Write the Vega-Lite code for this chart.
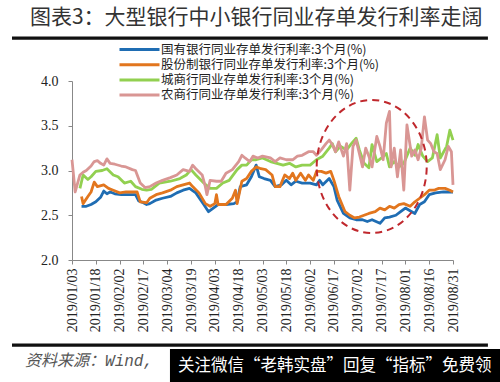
{
  "$schema": "https://vega.github.io/schema/vega-lite/v6.json",
  "width": 381,
  "height": 179,
  "autosize": "none",
  "padding": {"left": 72, "top": 81, "right": 47, "bottom": 122},
  "background": "white",
  "config": {
    "view": {"stroke": null},
    "axis": {
      "labelFont": "Liberation Serif",
      "labelFontSize": 14,
      "labelColor": "#222222",
      "domainColor": "#888888",
      "tickColor": "#888888",
      "tickSize": 4,
      "grid": false,
      "title": null
    },
    "axisX": {
      "labelAngle": 270,
      "labelPadding": 4,
      "labelOverlap": false,
      "labelBound": false,
      "labelFlush": false,
      "tickCount": 40
    },
    "legend": {
      "orient": "none",
      "legendX": 61,
      "legendY": -38,
      "padding": 0,
      "title": null,
      "symbolType": "M -4 0 L 4 0",
      "symbolSize": 100,
      "symbolStrokeWidth": 3,
      "labelFont": "Noto Sans CJK SC",
      "labelFontSize": 12.5,
      "labelColor": "#222222",
      "labelOffset": 15,
      "rowPadding": 2.2,
      "labelLimit": 400
    }
  },
  "layer": [
    {
      "data": {"values": [
        {"date": "2019-01-09", "s": "国有银行同业存单发行利率:3个月(%)", "v": 2.60},
        {"date": "2019-01-12", "s": "国有银行同业存单发行利率:3个月(%)", "v": 2.60},
        {"date": "2019-01-15", "s": "国有银行同业存单发行利率:3个月(%)", "v": 2.62},
        {"date": "2019-01-18", "s": "国有银行同业存单发行利率:3个月(%)", "v": 2.65},
        {"date": "2019-01-21", "s": "国有银行同业存单发行利率:3个月(%)", "v": 2.70},
        {"date": "2019-01-23", "s": "国有银行同业存单发行利率:3个月(%)", "v": 2.77},
        {"date": "2019-01-25", "s": "国有银行同业存单发行利率:3个月(%)", "v": 2.74},
        {"date": "2019-01-27", "s": "国有银行同业存单发行利率:3个月(%)", "v": 2.76},
        {"date": "2019-01-30", "s": "国有银行同业存单发行利率:3个月(%)", "v": 2.74},
        {"date": "2019-02-03", "s": "国有银行同业存单发行利率:3个月(%)", "v": 2.73},
        {"date": "2019-02-08", "s": "国有银行同业存单发行利率:3个月(%)", "v": 2.73},
        {"date": "2019-02-12", "s": "国有银行同业存单发行利率:3个月(%)", "v": 2.73},
        {"date": "2019-02-14", "s": "国有银行同业存单发行利率:3个月(%)", "v": 2.66},
        {"date": "2019-02-17", "s": "国有银行同业存单发行利率:3个月(%)", "v": 2.64},
        {"date": "2019-02-19", "s": "国有银行同业存单发行利率:3个月(%)", "v": 2.62},
        {"date": "2019-02-21", "s": "国有银行同业存单发行利率:3个月(%)", "v": 2.63},
        {"date": "2019-02-25", "s": "国有银行同业存单发行利率:3个月(%)", "v": 2.67},
        {"date": "2019-03-01", "s": "国有银行同业存单发行利率:3个月(%)", "v": 2.69},
        {"date": "2019-03-06", "s": "国有银行同业存单发行利率:3个月(%)", "v": 2.71},
        {"date": "2019-03-10", "s": "国有银行同业存单发行利率:3个月(%)", "v": 2.75},
        {"date": "2019-03-14", "s": "国有银行同业存单发行利率:3个月(%)", "v": 2.78},
        {"date": "2019-03-18", "s": "国有银行同业存单发行利率:3个月(%)", "v": 2.80},
        {"date": "2019-03-22", "s": "国有银行同业存单发行利率:3个月(%)", "v": 2.75},
        {"date": "2019-03-27", "s": "国有银行同业存单发行利率:3个月(%)", "v": 2.62},
        {"date": "2019-03-30", "s": "国有银行同业存单发行利率:3个月(%)", "v": 2.54},
        {"date": "2019-04-02", "s": "国有银行同业存单发行利率:3个月(%)", "v": 2.58},
        {"date": "2019-04-05", "s": "国有银行同业存单发行利率:3个月(%)", "v": 2.62},
        {"date": "2019-04-10", "s": "国有银行同业存单发行利率:3个月(%)", "v": 2.62},
        {"date": "2019-04-15", "s": "国有银行同业存单发行利率:3个月(%)", "v": 2.63},
        {"date": "2019-04-17", "s": "国有银行同业存单发行利率:3个月(%)", "v": 2.65},
        {"date": "2019-04-19", "s": "国有银行同业存单发行利率:3个月(%)", "v": 2.82},
        {"date": "2019-04-23", "s": "国有银行同业存单发行利率:3个月(%)", "v": 2.84},
        {"date": "2019-04-26", "s": "国有银行同业存单发行利率:3个月(%)", "v": 2.93},
        {"date": "2019-04-29", "s": "国有银行同业存单发行利率:3个月(%)", "v": 3.06},
        {"date": "2019-05-01", "s": "国有银行同业存单发行利率:3个月(%)", "v": 2.93},
        {"date": "2019-05-04", "s": "国有银行同业存单发行利率:3个月(%)", "v": 2.91},
        {"date": "2019-05-08", "s": "国有银行同业存单发行利率:3个月(%)", "v": 2.89},
        {"date": "2019-05-11", "s": "国有银行同业存单发行利率:3个月(%)", "v": 2.82},
        {"date": "2019-05-15", "s": "国有银行同业存单发行利率:3个月(%)", "v": 2.84},
        {"date": "2019-05-18", "s": "国有银行同业存单发行利率:3个月(%)", "v": 2.89},
        {"date": "2019-05-21", "s": "国有银行同业存单发行利率:3个月(%)", "v": 2.84},
        {"date": "2019-05-24", "s": "国有银行同业存单发行利率:3个月(%)", "v": 2.88},
        {"date": "2019-05-28", "s": "国有银行同业存单发行利率:3个月(%)", "v": 2.86},
        {"date": "2019-06-02", "s": "国有银行同业存单发行利率:3个月(%)", "v": 2.86},
        {"date": "2019-06-06", "s": "国有银行同业存单发行利率:3个月(%)", "v": 2.84},
        {"date": "2019-06-08", "s": "国有银行同业存单发行利率:3个月(%)", "v": 2.89},
        {"date": "2019-06-10", "s": "国有银行同业存单发行利率:3个月(%)", "v": 2.84},
        {"date": "2019-06-14", "s": "国有银行同业存单发行利率:3个月(%)", "v": 2.91},
        {"date": "2019-06-17", "s": "国有银行同业存单发行利率:3个月(%)", "v": 2.82},
        {"date": "2019-06-19", "s": "国有银行同业存单发行利率:3个月(%)", "v": 2.67},
        {"date": "2019-06-23", "s": "国有银行同业存单发行利率:3个月(%)", "v": 2.52},
        {"date": "2019-06-27", "s": "国有银行同业存单发行利率:3个月(%)", "v": 2.47},
        {"date": "2019-07-01", "s": "国有银行同业存单发行利率:3个月(%)", "v": 2.45},
        {"date": "2019-07-05", "s": "国有银行同业存单发行利率:3个月(%)", "v": 2.45},
        {"date": "2019-07-08", "s": "国有银行同业存单发行利率:3个月(%)", "v": 2.43},
        {"date": "2019-07-11", "s": "国有银行同业存单发行利率:3个月(%)", "v": 2.45},
        {"date": "2019-07-16", "s": "国有银行同业存单发行利率:3个月(%)", "v": 2.41},
        {"date": "2019-07-19", "s": "国有银行同业存单发行利率:3个月(%)", "v": 2.47},
        {"date": "2019-07-22", "s": "国有银行同业存单发行利率:3个月(%)", "v": 2.48},
        {"date": "2019-07-26", "s": "国有银行同业存单发行利率:3个月(%)", "v": 2.50},
        {"date": "2019-07-29", "s": "国有银行同业存单发行利率:3个月(%)", "v": 2.54},
        {"date": "2019-08-01", "s": "国有银行同业存单发行利率:3个月(%)", "v": 2.58},
        {"date": "2019-08-05", "s": "国有银行同业存单发行利率:3个月(%)", "v": 2.54},
        {"date": "2019-08-07", "s": "国有银行同业存单发行利率:3个月(%)", "v": 2.52},
        {"date": "2019-08-10", "s": "国有银行同业存单发行利率:3个月(%)", "v": 2.62},
        {"date": "2019-08-13", "s": "国有银行同业存单发行利率:3个月(%)", "v": 2.65},
        {"date": "2019-08-16", "s": "国有银行同业存单发行利率:3个月(%)", "v": 2.73},
        {"date": "2019-08-20", "s": "国有银行同业存单发行利率:3个月(%)", "v": 2.75},
        {"date": "2019-08-25", "s": "国有银行同业存单发行利率:3个月(%)", "v": 2.76},
        {"date": "2019-08-29", "s": "国有银行同业存单发行利率:3个月(%)", "v": 2.76},
        {"date": "2019-08-31", "s": "国有银行同业存单发行利率:3个月(%)", "v": 2.76},

        {"date": "2019-01-09", "s": "股份制银行同业存单发行利率:3个月(%)", "v": 2.71},
        {"date": "2019-01-10", "s": "股份制银行同业存单发行利率:3个月(%)", "v": 2.63},
        {"date": "2019-01-13", "s": "股份制银行同业存单发行利率:3个月(%)", "v": 2.71},
        {"date": "2019-01-15", "s": "股份制银行同业存单发行利率:3个月(%)", "v": 2.76},
        {"date": "2019-01-17", "s": "股份制银行同业存单发行利率:3个月(%)", "v": 2.87},
        {"date": "2019-01-19", "s": "股份制银行同业存单发行利率:3个月(%)", "v": 2.82},
        {"date": "2019-01-23", "s": "股份制银行同业存单发行利率:3个月(%)", "v": 2.84},
        {"date": "2019-01-26", "s": "股份制银行同业存单发行利率:3个月(%)", "v": 2.80},
        {"date": "2019-01-29", "s": "股份制银行同业存单发行利率:3个月(%)", "v": 2.78},
        {"date": "2019-02-02", "s": "股份制银行同业存单发行利率:3个月(%)", "v": 2.75},
        {"date": "2019-02-06", "s": "股份制银行同业存单发行利率:3个月(%)", "v": 2.76},
        {"date": "2019-02-10", "s": "股份制银行同业存单发行利率:3个月(%)", "v": 2.76},
        {"date": "2019-02-13", "s": "股份制银行同业存单发行利率:3个月(%)", "v": 2.76},
        {"date": "2019-02-15", "s": "股份制银行同业存单发行利率:3个月(%)", "v": 2.65},
        {"date": "2019-02-19", "s": "股份制银行同业存单发行利率:3个月(%)", "v": 2.64},
        {"date": "2019-02-21", "s": "股份制银行同业存单发行利率:3个月(%)", "v": 2.69},
        {"date": "2019-02-25", "s": "股份制银行同业存单发行利率:3个月(%)", "v": 2.73},
        {"date": "2019-03-01", "s": "股份制银行同业存单发行利率:3个月(%)", "v": 2.75},
        {"date": "2019-03-06", "s": "股份制银行同业存单发行利率:3个月(%)", "v": 2.78},
        {"date": "2019-03-10", "s": "股份制银行同业存单发行利率:3个月(%)", "v": 2.82},
        {"date": "2019-03-14", "s": "股份制银行同业存单发行利率:3个月(%)", "v": 2.84},
        {"date": "2019-03-18", "s": "股份制银行同业存单发行利率:3个月(%)", "v": 2.86},
        {"date": "2019-03-20", "s": "股份制银行同业存单发行利率:3个月(%)", "v": 2.82},
        {"date": "2019-03-24", "s": "股份制银行同业存单发行利率:3个月(%)", "v": 2.75},
        {"date": "2019-03-28", "s": "股份制银行同业存单发行利率:3个月(%)", "v": 2.63},
        {"date": "2019-03-31", "s": "股份制银行同业存单发行利率:3个月(%)", "v": 2.60},
        {"date": "2019-04-03", "s": "股份制银行同业存单发行利率:3个月(%)", "v": 2.63},
        {"date": "2019-04-04", "s": "股份制银行同业存单发行利率:3个月(%)", "v": 2.73},
        {"date": "2019-04-05", "s": "股份制银行同业存单发行利率:3个月(%)", "v": 2.62},
        {"date": "2019-04-10", "s": "股份制银行同业存单发行利率:3个月(%)", "v": 2.62},
        {"date": "2019-04-14", "s": "股份制银行同业存单发行利率:3个月(%)", "v": 2.69},
        {"date": "2019-04-16", "s": "股份制银行同业存单发行利率:3个月(%)", "v": 2.78},
        {"date": "2019-04-17", "s": "股份制银行同业存单发行利率:3个月(%)", "v": 2.63},
        {"date": "2019-04-20", "s": "股份制银行同业存单发行利率:3个月(%)", "v": 2.88},
        {"date": "2019-04-23", "s": "股份制银行同业存单发行利率:3个月(%)", "v": 2.91},
        {"date": "2019-04-26", "s": "股份制银行同业存单发行利率:3个月(%)", "v": 2.99},
        {"date": "2019-04-29", "s": "股份制银行同业存单发行利率:3个月(%)", "v": 3.04},
        {"date": "2019-05-02", "s": "股份制银行同业存单发行利率:3个月(%)", "v": 3.02},
        {"date": "2019-05-05", "s": "股份制银行同业存单发行利率:3个月(%)", "v": 3.01},
        {"date": "2019-05-09", "s": "股份制银行同业存单发行利率:3个月(%)", "v": 2.95},
        {"date": "2019-05-11", "s": "股份制银行同业存单发行利率:3个月(%)", "v": 2.82},
        {"date": "2019-05-14", "s": "股份制银行同业存单发行利率:3个月(%)", "v": 2.82},
        {"date": "2019-05-17", "s": "股份制银行同业存单发行利率:3个月(%)", "v": 2.95},
        {"date": "2019-05-20", "s": "股份制银行同业存单发行利率:3个月(%)", "v": 2.91},
        {"date": "2019-05-22", "s": "股份制银行同业存单发行利率:3个月(%)", "v": 2.97},
        {"date": "2019-05-24", "s": "股份制银行同业存单发行利率:3个月(%)", "v": 2.89},
        {"date": "2019-05-27", "s": "股份制银行同业存单发行利率:3个月(%)", "v": 2.97},
        {"date": "2019-05-30", "s": "股份制银行同业存单发行利率:3个月(%)", "v": 2.89},
        {"date": "2019-06-01", "s": "股份制银行同业存单发行利率:3个月(%)", "v": 2.95},
        {"date": "2019-06-04", "s": "股份制银行同业存单发行利率:3个月(%)", "v": 2.89},
        {"date": "2019-06-06", "s": "股份制银行同业存单发行利率:3个月(%)", "v": 2.99},
        {"date": "2019-06-09", "s": "股份制银行同业存单发行利率:3个月(%)", "v": 2.99},
        {"date": "2019-06-12", "s": "股份制银行同业存单发行利率:3个月(%)", "v": 2.97},
        {"date": "2019-06-15", "s": "股份制银行同业存单发行利率:3个月(%)", "v": 2.99},
        {"date": "2019-06-17", "s": "股份制银行同业存单发行利率:3个月(%)", "v": 2.89},
        {"date": "2019-06-20", "s": "股份制银行同业存单发行利率:3个月(%)", "v": 2.71},
        {"date": "2019-06-24", "s": "股份制银行同业存单发行利率:3个月(%)", "v": 2.54},
        {"date": "2019-06-27", "s": "股份制银行同业存单发行利率:3个月(%)", "v": 2.50},
        {"date": "2019-06-30", "s": "股份制银行同业存单发行利率:3个月(%)", "v": 2.47},
        {"date": "2019-07-03", "s": "股份制银行同业存单发行利率:3个月(%)", "v": 2.48},
        {"date": "2019-07-06", "s": "股份制银行同业存单发行利率:3个月(%)", "v": 2.50},
        {"date": "2019-07-09", "s": "股份制银行同业存单发行利率:3个月(%)", "v": 2.52},
        {"date": "2019-07-13", "s": "股份制银行同业存单发行利率:3个月(%)", "v": 2.54},
        {"date": "2019-07-16", "s": "股份制银行同业存单发行利率:3个月(%)", "v": 2.58},
        {"date": "2019-07-19", "s": "股份制银行同业存单发行利率:3个月(%)", "v": 2.56},
        {"date": "2019-07-22", "s": "股份制银行同业存单发行利率:3个月(%)", "v": 2.60},
        {"date": "2019-07-25", "s": "股份制银行同业存单发行利率:3个月(%)", "v": 2.58},
        {"date": "2019-07-28", "s": "股份制银行同业存单发行利率:3个月(%)", "v": 2.62},
        {"date": "2019-07-31", "s": "股份制银行同业存单发行利率:3个月(%)", "v": 2.63},
        {"date": "2019-08-04", "s": "股份制银行同业存单发行利率:3个月(%)", "v": 2.60},
        {"date": "2019-08-07", "s": "股份制银行同业存单发行利率:3个月(%)", "v": 2.65},
        {"date": "2019-08-10", "s": "股份制银行同业存单发行利率:3个月(%)", "v": 2.69},
        {"date": "2019-08-13", "s": "股份制银行同业存单发行利率:3个月(%)", "v": 2.73},
        {"date": "2019-08-16", "s": "股份制银行同业存单发行利率:3个月(%)", "v": 2.78},
        {"date": "2019-08-19", "s": "股份制银行同业存单发行利率:3个月(%)", "v": 2.78},
        {"date": "2019-08-22", "s": "股份制银行同业存单发行利率:3个月(%)", "v": 2.80},
        {"date": "2019-08-26", "s": "股份制银行同业存单发行利率:3个月(%)", "v": 2.80},
        {"date": "2019-08-29", "s": "股份制银行同业存单发行利率:3个月(%)", "v": 2.78},
        {"date": "2019-08-31", "s": "股份制银行同业存单发行利率:3个月(%)", "v": 2.76},

        {"date": "2019-01-08", "s": "城商行同业存单发行利率:3个月(%)", "v": 2.80},
        {"date": "2019-01-10", "s": "城商行同业存单发行利率:3个月(%)", "v": 2.95},
        {"date": "2019-01-13", "s": "城商行同业存单发行利率:3个月(%)", "v": 2.90},
        {"date": "2019-01-15", "s": "城商行同业存单发行利率:3个月(%)", "v": 2.93},
        {"date": "2019-01-18", "s": "城商行同业存单发行利率:3个月(%)", "v": 2.99},
        {"date": "2019-01-22", "s": "城商行同业存单发行利率:3个月(%)", "v": 3.00},
        {"date": "2019-01-25", "s": "城商行同业存单发行利率:3个月(%)", "v": 3.02},
        {"date": "2019-01-29", "s": "城商行同业存单发行利率:3个月(%)", "v": 2.95},
        {"date": "2019-02-01", "s": "城商行同业存单发行利率:3个月(%)", "v": 2.93},
        {"date": "2019-02-05", "s": "城商行同业存单发行利率:3个月(%)", "v": 2.86},
        {"date": "2019-02-09", "s": "城商行同业存单发行利率:3个月(%)", "v": 2.88},
        {"date": "2019-02-12", "s": "城商行同业存单发行利率:3个月(%)", "v": 2.82},
        {"date": "2019-02-16", "s": "城商行同业存单发行利率:3个月(%)", "v": 2.79},
        {"date": "2019-02-19", "s": "城商行同业存单发行利率:3个月(%)", "v": 2.78},
        {"date": "2019-02-22", "s": "城商行同业存单发行利率:3个月(%)", "v": 2.79},
        {"date": "2019-02-27", "s": "城商行同业存单发行利率:3个月(%)", "v": 2.86},
        {"date": "2019-03-06", "s": "城商行同业存单发行利率:3个月(%)", "v": 2.88},
        {"date": "2019-03-12", "s": "城商行同业存单发行利率:3个月(%)", "v": 2.91},
        {"date": "2019-03-16", "s": "城商行同业存单发行利率:3个月(%)", "v": 2.95},
        {"date": "2019-03-19", "s": "城商行同业存单发行利率:3个月(%)", "v": 3.01},
        {"date": "2019-03-22", "s": "城商行同业存单发行利率:3个月(%)", "v": 2.95},
        {"date": "2019-03-27", "s": "城商行同业存单发行利率:3个月(%)", "v": 2.86},
        {"date": "2019-03-31", "s": "城商行同业存单发行利率:3个月(%)", "v": 2.80},
        {"date": "2019-04-04", "s": "城商行同业存单发行利率:3个月(%)", "v": 2.80},
        {"date": "2019-04-08", "s": "城商行同业存单发行利率:3个月(%)", "v": 2.86},
        {"date": "2019-04-12", "s": "城商行同业存单发行利率:3个月(%)", "v": 2.89},
        {"date": "2019-04-17", "s": "城商行同业存单发行利率:3个月(%)", "v": 3.01},
        {"date": "2019-04-20", "s": "城商行同业存单发行利率:3个月(%)", "v": 3.06},
        {"date": "2019-04-23", "s": "城商行同业存单发行利率:3个月(%)", "v": 3.06},
        {"date": "2019-04-26", "s": "城商行同业存单发行利率:3个月(%)", "v": 3.12},
        {"date": "2019-04-29", "s": "城商行同业存单发行利率:3个月(%)", "v": 3.12},
        {"date": "2019-05-03", "s": "城商行同业存单发行利率:3个月(%)", "v": 3.14},
        {"date": "2019-05-08", "s": "城商行同业存单发行利率:3个月(%)", "v": 3.10},
        {"date": "2019-05-12", "s": "城商行同业存单发行利率:3个月(%)", "v": 3.08},
        {"date": "2019-05-16", "s": "城商行同业存单发行利率:3个月(%)", "v": 3.06},
        {"date": "2019-05-20", "s": "城商行同业存单发行利率:3个月(%)", "v": 3.08},
        {"date": "2019-05-24", "s": "城商行同业存单发行利率:3个月(%)", "v": 3.04},
        {"date": "2019-05-28", "s": "城商行同业存单发行利率:3个月(%)", "v": 3.06},
        {"date": "2019-06-02", "s": "城商行同业存单发行利率:3个月(%)", "v": 3.06},
        {"date": "2019-06-06", "s": "城商行同业存单发行利率:3个月(%)", "v": 3.12},
        {"date": "2019-06-10", "s": "城商行同业存单发行利率:3个月(%)", "v": 3.16},
        {"date": "2019-06-14", "s": "城商行同业存单发行利率:3个月(%)", "v": 3.25},
        {"date": "2019-06-16", "s": "城商行同业存单发行利率:3个月(%)", "v": 3.30},
        {"date": "2019-06-18", "s": "城商行同业存单发行利率:3个月(%)", "v": 3.21},
        {"date": "2019-06-21", "s": "城商行同业存单发行利率:3个月(%)", "v": 3.27},
        {"date": "2019-06-25", "s": "城商行同业存单发行利率:3个月(%)", "v": 3.23},
        {"date": "2019-06-28", "s": "城商行同业存单发行利率:3个月(%)", "v": 3.30},
        {"date": "2019-07-01", "s": "城商行同业存单发行利率:3个月(%)", "v": 3.36},
        {"date": "2019-07-03", "s": "城商行同业存单发行利率:3个月(%)", "v": 3.23},
        {"date": "2019-07-06", "s": "城商行同业存单发行利率:3个月(%)", "v": 3.08},
        {"date": "2019-07-09", "s": "城商行同业存单发行利率:3个月(%)", "v": 3.03},
        {"date": "2019-07-11", "s": "城商行同业存单发行利率:3个月(%)", "v": 3.29},
        {"date": "2019-07-14", "s": "城商行同业存单发行利率:3个月(%)", "v": 3.10},
        {"date": "2019-07-17", "s": "城商行同业存单发行利率:3个月(%)", "v": 3.14},
        {"date": "2019-07-20", "s": "城商行同业存单发行利率:3个月(%)", "v": 3.19},
        {"date": "2019-07-22", "s": "城商行同业存单发行利率:3个月(%)", "v": 3.04},
        {"date": "2019-07-25", "s": "城商行同业存单发行利率:3个月(%)", "v": 3.10},
        {"date": "2019-07-28", "s": "城商行同业存单发行利率:3个月(%)", "v": 3.04},
        {"date": "2019-07-31", "s": "城商行同业存单发行利率:3个月(%)", "v": 3.08},
        {"date": "2019-08-04", "s": "城商行同业存单发行利率:3个月(%)", "v": 3.25},
        {"date": "2019-08-07", "s": "城商行同业存单发行利率:3个月(%)", "v": 3.17},
        {"date": "2019-08-09", "s": "城商行同业存单发行利率:3个月(%)", "v": 3.29},
        {"date": "2019-08-12", "s": "城商行同业存单发行利率:3个月(%)", "v": 3.16},
        {"date": "2019-08-15", "s": "城商行同业存单发行利率:3个月(%)", "v": 3.10},
        {"date": "2019-08-18", "s": "城商行同业存单发行利率:3个月(%)", "v": 3.14},
        {"date": "2019-08-21", "s": "城商行同业存单发行利率:3个月(%)", "v": 3.40},
        {"date": "2019-08-23", "s": "城商行同业存单发行利率:3个月(%)", "v": 3.14},
        {"date": "2019-08-27", "s": "城商行同业存单发行利率:3个月(%)", "v": 3.27},
        {"date": "2019-08-29", "s": "城商行同业存单发行利率:3个月(%)", "v": 3.45},
        {"date": "2019-08-31", "s": "城商行同业存单发行利率:3个月(%)", "v": 3.34},

        {"date": "2019-01-03", "s": "农商行同业存单发行利率:3个月(%)", "v": 3.12},
        {"date": "2019-01-05", "s": "农商行同业存单发行利率:3个月(%)", "v": 2.76},
        {"date": "2019-01-08", "s": "农商行同业存单发行利率:3个月(%)", "v": 2.95},
        {"date": "2019-01-10", "s": "农商行同业存单发行利率:3个月(%)", "v": 2.98},
        {"date": "2019-01-12", "s": "农商行同业存单发行利率:3个月(%)", "v": 3.00},
        {"date": "2019-01-15", "s": "农商行同业存单发行利率:3个月(%)", "v": 3.05},
        {"date": "2019-01-17", "s": "农商行同业存单发行利率:3个月(%)", "v": 3.10},
        {"date": "2019-01-19", "s": "农商行同业存单发行利率:3个月(%)", "v": 3.11},
        {"date": "2019-01-21", "s": "农商行同业存单发行利率:3个月(%)", "v": 3.08},
        {"date": "2019-01-23", "s": "农商行同业存单发行利率:3个月(%)", "v": 3.06},
        {"date": "2019-01-25", "s": "农商行同业存单发行利率:3个月(%)", "v": 3.13},
        {"date": "2019-01-27", "s": "农商行同业存单发行利率:3个月(%)", "v": 3.08},
        {"date": "2019-01-30", "s": "农商行同业存单发行利率:3个月(%)", "v": 3.07},
        {"date": "2019-02-03", "s": "农商行同业存单发行利率:3个月(%)", "v": 3.05},
        {"date": "2019-02-06", "s": "农商行同业存单发行利率:3个月(%)", "v": 3.04},
        {"date": "2019-02-10", "s": "农商行同业存单发行利率:3个月(%)", "v": 3.01},
        {"date": "2019-02-12", "s": "农商行同业存单发行利率:3个月(%)", "v": 3.00},
        {"date": "2019-02-15", "s": "农商行同业存单发行利率:3个月(%)", "v": 2.86},
        {"date": "2019-02-18", "s": "农商行同业存单发行利率:3个月(%)", "v": 2.81},
        {"date": "2019-02-21", "s": "农商行同业存单发行利率:3个月(%)", "v": 2.82},
        {"date": "2019-02-25", "s": "农商行同业存单发行利率:3个月(%)", "v": 2.86},
        {"date": "2019-03-01", "s": "农商行同业存单发行利率:3个月(%)", "v": 2.89},
        {"date": "2019-03-06", "s": "农商行同业存单发行利率:3个月(%)", "v": 2.92},
        {"date": "2019-03-10", "s": "农商行同业存单发行利率:3个月(%)", "v": 2.95},
        {"date": "2019-03-14", "s": "农商行同业存单发行利率:3个月(%)", "v": 3.01},
        {"date": "2019-03-18", "s": "农商行同业存单发行利率:3个月(%)", "v": 2.99},
        {"date": "2019-03-20", "s": "农商行同业存单发行利率:3个月(%)", "v": 3.06},
        {"date": "2019-03-22", "s": "农商行同业存单发行利率:3个月(%)", "v": 3.02},
        {"date": "2019-03-26", "s": "农商行同业存单发行利率:3个月(%)", "v": 2.95},
        {"date": "2019-03-28", "s": "农商行同业存单发行利率:3个月(%)", "v": 2.82},
        {"date": "2019-03-29", "s": "农商行同业存单发行利率:3个月(%)", "v": 2.73},
        {"date": "2019-03-31", "s": "农商行同业存单发行利率:3个月(%)", "v": 2.89},
        {"date": "2019-04-04", "s": "农商行同业存单发行利率:3个月(%)", "v": 2.88},
        {"date": "2019-04-07", "s": "农商行同业存单发行利率:3个月(%)", "v": 2.88},
        {"date": "2019-04-10", "s": "农商行同业存单发行利率:3个月(%)", "v": 2.97},
        {"date": "2019-04-14", "s": "农商行同业存单发行利率:3个月(%)", "v": 3.01},
        {"date": "2019-04-18", "s": "农商行同业存单发行利率:3个月(%)", "v": 3.10},
        {"date": "2019-04-20", "s": "农商行同业存单发行利率:3个月(%)", "v": 3.17},
        {"date": "2019-04-22", "s": "农商行同业存单发行利率:3个月(%)", "v": 3.14},
        {"date": "2019-04-25", "s": "农商行同业存单发行利率:3个月(%)", "v": 3.10},
        {"date": "2019-04-27", "s": "农商行同业存单发行利率:3个月(%)", "v": 3.16},
        {"date": "2019-04-30", "s": "农商行同业存单发行利率:3个月(%)", "v": 3.14},
        {"date": "2019-05-03", "s": "农商行同业存单发行利率:3个月(%)", "v": 3.16},
        {"date": "2019-05-08", "s": "农商行同业存单发行利率:3个月(%)", "v": 3.14},
        {"date": "2019-05-11", "s": "农商行同业存单发行利率:3个月(%)", "v": 3.10},
        {"date": "2019-05-14", "s": "农商行同业存单发行利率:3个月(%)", "v": 3.14},
        {"date": "2019-05-18", "s": "农商行同业存单发行利率:3个月(%)", "v": 3.12},
        {"date": "2019-05-22", "s": "农商行同业存单发行利率:3个月(%)", "v": 3.12},
        {"date": "2019-05-25", "s": "农商行同业存单发行利率:3个月(%)", "v": 3.16},
        {"date": "2019-05-28", "s": "农商行同业存单发行利率:3个月(%)", "v": 3.17},
        {"date": "2019-06-01", "s": "农商行同业存单发行利率:3个月(%)", "v": 3.21},
        {"date": "2019-06-04", "s": "农商行同业存单发行利率:3个月(%)", "v": 3.21},
        {"date": "2019-06-06", "s": "农商行同业存单发行利率:3个月(%)", "v": 3.17},
        {"date": "2019-06-09", "s": "农商行同业存单发行利率:3个月(%)", "v": 3.23},
        {"date": "2019-06-12", "s": "农商行同业存单发行利率:3个月(%)", "v": 3.30},
        {"date": "2019-06-14", "s": "农商行同业存单发行利率:3个月(%)", "v": 3.34},
        {"date": "2019-06-16", "s": "农商行同业存单发行利率:3个月(%)", "v": 3.29},
        {"date": "2019-06-18", "s": "农商行同业存单发行利率:3个月(%)", "v": 3.21},
        {"date": "2019-06-20", "s": "农商行同业存单发行利率:3个月(%)", "v": 3.32},
        {"date": "2019-06-23", "s": "农商行同业存单发行利率:3个月(%)", "v": 3.16},
        {"date": "2019-06-25", "s": "农商行同业存单发行利率:3个月(%)", "v": 3.30},
        {"date": "2019-06-27", "s": "农商行同业存单发行利率:3个月(%)", "v": 2.78},
        {"date": "2019-06-29", "s": "农商行同业存单发行利率:3个月(%)", "v": 3.27},
        {"date": "2019-07-01", "s": "农商行同业存单发行利率:3个月(%)", "v": 3.34},
        {"date": "2019-07-03", "s": "农商行同业存单发行利率:3个月(%)", "v": 3.19},
        {"date": "2019-07-05", "s": "农商行同业存单发行利率:3个月(%)", "v": 3.04},
        {"date": "2019-07-07", "s": "农商行同业存单发行利率:3个月(%)", "v": 3.25},
        {"date": "2019-07-09", "s": "农商行同业存单发行利率:3个月(%)", "v": 3.16},
        {"date": "2019-07-11", "s": "农商行同业存单发行利率:3个月(%)", "v": 3.04},
        {"date": "2019-07-14", "s": "农商行同业存单发行利率:3个月(%)", "v": 3.38},
        {"date": "2019-07-16", "s": "农商行同业存单发行利率:3个月(%)", "v": 3.27},
        {"date": "2019-07-18", "s": "农商行同业存单发行利率:3个月(%)", "v": 3.12},
        {"date": "2019-07-20", "s": "农商行同业存单发行利率:3个月(%)", "v": 3.53},
        {"date": "2019-07-22", "s": "农商行同业存单发行利率:3个月(%)", "v": 3.66},
        {"date": "2019-07-23", "s": "农商行同业存单发行利率:3个月(%)", "v": 3.04},
        {"date": "2019-07-25", "s": "农商行同业存单发行利率:3个月(%)", "v": 3.25},
        {"date": "2019-07-27", "s": "农商行同业存单发行利率:3个月(%)", "v": 2.93},
        {"date": "2019-07-29", "s": "农商行同业存单发行利率:3个月(%)", "v": 3.23},
        {"date": "2019-07-31", "s": "农商行同业存单发行利率:3个月(%)", "v": 2.78},
        {"date": "2019-08-02", "s": "农商行同业存单发行利率:3个月(%)", "v": 3.51},
        {"date": "2019-08-05", "s": "农商行同业存单发行利率:3个月(%)", "v": 3.16},
        {"date": "2019-08-07", "s": "农商行同业存单发行利率:3个月(%)", "v": 3.23},
        {"date": "2019-08-09", "s": "农商行同业存单发行利率:3个月(%)", "v": 3.12},
        {"date": "2019-08-11", "s": "农商行同业存单发行利率:3个月(%)", "v": 3.25},
        {"date": "2019-08-13", "s": "农商行同业存单发行利率:3个月(%)", "v": 3.60},
        {"date": "2019-08-15", "s": "农商行同业存单发行利率:3个月(%)", "v": 3.34},
        {"date": "2019-08-17", "s": "农商行同业存单发行利率:3个月(%)", "v": 3.30},
        {"date": "2019-08-19", "s": "农商行同业存单发行利率:3个月(%)", "v": 3.21},
        {"date": "2019-08-21", "s": "农商行同业存单发行利率:3个月(%)", "v": 3.19},
        {"date": "2019-08-23", "s": "农商行同业存单发行利率:3个月(%)", "v": 3.01},
        {"date": "2019-08-26", "s": "农商行同业存单发行利率:3个月(%)", "v": 3.12},
        {"date": "2019-08-28", "s": "农商行同业存单发行利率:3个月(%)", "v": 3.27},
        {"date": "2019-08-30", "s": "农商行同业存单发行利率:3个月(%)", "v": 3.21},
        {"date": "2019-08-31", "s": "农商行同业存单发行利率:3个月(%)", "v": 2.84}
      ]},
      "mark": {"type": "line", "strokeWidth": 2.8, "strokeJoin": "round"},
      "encoding": {
        "x": {
          "field": "date",
          "type": "temporal",
          "scale": {
            "type": "utc",
            "domain": [
              {"year": 2019, "month": 1, "date": 3, "utc": true},
              {"year": 2019, "month": 8, "date": 31, "utc": true}
            ]
          },
          "axis": {
            "labelExpr": "utcFormat(datum.value, '%Y/%m/%d')",
            "labelOverlap": false,
            "tickCount": 40,
            "values": [
              {"year": 2019, "month": 1, "date": 3, "utc": true},
              {"year": 2019, "month": 1, "date": 18, "utc": true},
              {"year": 2019, "month": 2, "date": 2, "utc": true},
              {"year": 2019, "month": 2, "date": 17, "utc": true},
              {"year": 2019, "month": 3, "date": 4, "utc": true},
              {"year": 2019, "month": 3, "date": 19, "utc": true},
              {"year": 2019, "month": 4, "date": 3, "utc": true},
              {"year": 2019, "month": 4, "date": 18, "utc": true},
              {"year": 2019, "month": 5, "date": 3, "utc": true},
              {"year": 2019, "month": 5, "date": 18, "utc": true},
              {"year": 2019, "month": 6, "date": 2, "utc": true},
              {"year": 2019, "month": 6, "date": 17, "utc": true},
              {"year": 2019, "month": 7, "date": 2, "utc": true},
              {"year": 2019, "month": 7, "date": 17, "utc": true},
              {"year": 2019, "month": 8, "date": 1, "utc": true},
              {"year": 2019, "month": 8, "date": 16, "utc": true},
              {"year": 2019, "month": 8, "date": 31, "utc": true}
            ]
          }
        },
        "y": {
          "field": "v",
          "type": "quantitative",
          "scale": {"domain": [2, 4], "nice": false, "zero": false},
          "axis": {"values": [2, 2.5, 3, 3.5, 4], "format": ".1f", "labelPadding": 10}
        },
        "color": {
          "field": "s",
          "type": "nominal",
          "sort": null,
          "scale": {
            "domain": ["国有银行同业存单发行利率:3个月(%)", "股份制银行同业存单发行利率:3个月(%)", "城商行同业存单发行利率:3个月(%)", "农商行同业存单发行利率:3个月(%)"],
            "range": ["#1F6DB3", "#E2761E", "#92D050", "#D99694"]
          }
        }
      }
    },
    {
      "data": {"values": [{}]},
      "mark": {
        "type": "point",
        "shape": "M -0.827 0 A 0.827 1 0 1 1 0.827 0 A 0.827 1 0 1 1 -0.827 0 Z",
        "size": 17689,
        "filled": false,
        "stroke": "#C0282D",
        "strokeWidth": 2,
        "strokeDash": [7, 5],
        "opacity": 1
      },
      "encoding": {
        "x": {"datum": {"year": 2019, "month": 7, "date": 10, "hours": 19, "utc": true}, "type": "temporal"},
        "y": {"datum": 3.045, "type": "quantitative"}
      }
    },
    {
      "data": {"values": [{}]},
      "mark": {"type": "rule", "stroke": "#111111", "strokeWidth": 3.3},
      "encoding": {
        "x": {"datum": {"year": 2018, "month": 11, "date": 26, "hours": 5, "utc": true}, "type": "temporal"},
        "x2": {"datum": {"year": 2019, "month": 9, "date": 22, "utc": true}},
        "y": {"datum": 4.48, "type": "quantitative"}
      }
    },
    {
      "data": {"values": [{}]},
      "mark": {"type": "rule", "stroke": "#111111", "strokeWidth": 3.3},
      "encoding": {
        "x": {"datum": {"year": 2018, "month": 11, "date": 26, "hours": 5, "utc": true}, "type": "temporal"},
        "x2": {"datum": {"year": 2019, "month": 9, "date": 22, "utc": true}},
        "y": {"datum": 1.05, "type": "quantitative"}
      }
    },
    {
      "data": {"values": [{}]},
      "mark": {"type": "text", "text": "图表3：大型银行中小银行同业存单发行利率走阔", "align": "left", "baseline": "middle", "fontSize": 21, "font": "Noto Sans CJK SC", "fill": "#333333"},
      "encoding": {
        "x": {"datum": {"year": 2018, "month": 12, "date": 7, "hours": 12, "utc": true}, "type": "temporal"},
        "y": {"datum": 4.704, "type": "quantitative"}
      }
    },
    {
      "data": {"values": [{}]},
      "mark": {"type": "text", "text": "资料来源：Wind,", "align": "left", "baseline": "middle", "fontSize": 16, "font": "Liberation Mono, Noto Sans CJK SC", "fontStyle": "italic", "fill": "#555555"},
      "encoding": {
        "x": {"datum": {"year": 2018, "month": 12, "date": 4, "hours": 10, "utc": true}, "type": "temporal"},
        "y": {"datum": 0.866, "type": "quantitative"}
      }
    },
    {
      "data": {"values": [{}]},
      "mark": {"type": "rect", "fill": "#000000"},
      "encoding": {
        "x": {"datum": {"year": 2019, "month": 3, "date": 5, "hours": 17, "utc": true}, "type": "temporal"},
        "x2": {"datum": {"year": 2019, "month": 9, "date": 30, "utc": true}},
        "y": {"datum": 1.006, "type": "quantitative"},
        "y2": {"datum": 0.6}
      }
    },
    {
      "data": {"values": [{}]},
      "mark": {"type": "text", "text": "关注微信“老韩实盘”回复“指标”免费领", "align": "left", "baseline": "middle", "fontSize": 16.5, "font": "Noto Sans CJK SC", "fill": "#FFFFFF"},
      "encoding": {
        "x": {"datum": {"year": 2019, "month": 3, "date": 10, "hours": 19, "utc": true}, "type": "temporal"},
        "y": {"datum": 0.816, "type": "quantitative"}
      }
    }
  ]
}
